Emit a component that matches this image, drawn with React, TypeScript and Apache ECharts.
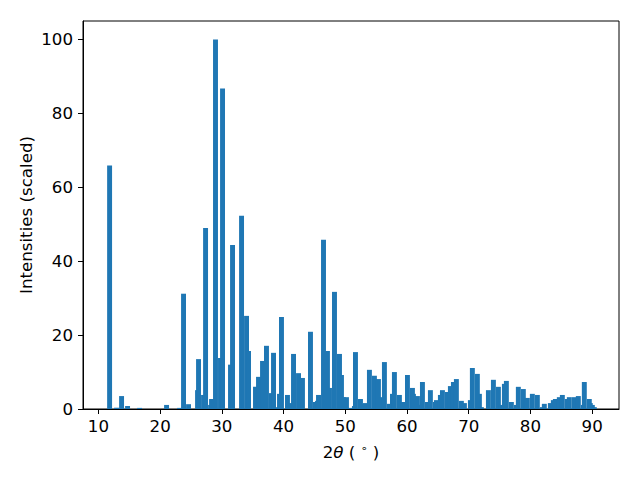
import React, { useEffect, useRef } from "react";
import * as echarts from "echarts";

const twoTheta: number[] = [
  11.81, 12.94, 13.75, 14.72, 16.67, 21.04, 23.15, 23.79, 24.6, 26.06, 26.22, 27.03, 27.36, 28.17, 28.33, 28.97,
  29.78, 30.11, 31.4, 31.73, 33.19, 34.0, 34.32, 35.45, 35.94, 36.59, 37.23, 38.04, 38.37, 39.18, 39.34, 39.66,
  40.63, 41.28, 41.61, 42.42, 42.74, 43.06, 44.36, 45.17, 45.5, 45.66, 46.47, 47.11, 47.44, 48.25, 49.06, 49.38,
  49.7, 50.19, 50.68, 51.48, 51.65, 52.46, 52.62, 52.78, 53.27, 53.91, 54.72, 55.37, 55.86, 56.34, 57.15, 57.64,
  57.96, 58.77, 59.42, 60.07, 60.88, 61.04, 61.69, 62.34, 62.5, 63.31, 63.79, 64.6, 64.76, 65.41, 65.74, 66.55,
  67.03, 67.52, 68.0, 68.81, 69.3, 70.27, 70.59, 71.4, 71.73, 72.05, 73.19, 74.0, 74.81, 75.3, 75.62, 75.78,
  76.1, 76.91, 77.72, 78.04, 78.85, 79.34, 79.5, 80.31, 81.12, 81.93, 82.25, 83.23, 83.71, 84.04, 84.68, 85.17,
  85.98, 86.3, 87.11, 87.76, 88.57, 88.73, 89.54, 89.7, 90.03, 90.35,
];

const intensities: number[] = [
  65.9, 0.35, 3.5, 0.8, 0.3, 1.1, 0.3, 31.2, 1.3, 5.1, 13.5, 3.8, 49.0, 1.1, 2.7, 100,
  13.8, 86.7, 12.0, 44.4, 52.3, 25.2, 15.7, 6.0, 8.7, 13.0, 17.1, 4.3, 15.2, 0.5, 4.1, 24.9,
  3.8, 1.6, 14.9, 9.7, 3.2, 8.4, 20.9, 1.9, 2.2, 3.8, 45.8, 15.7, 5.7, 31.7, 14.9, 9.2,
  3.2, 3.2, 0.3, 0.8, 15.4, 2.7, 0.3, 1.3, 1.6, 10.6, 9.0, 8.1, 3.2, 12.7, 1.4, 4.1,
  10.0, 3.8, 1.9, 9.2, 5.7, 4.1, 3.5, 1.1, 7.3, 1.9, 5.1, 1.9, 2.4, 3.8, 5.1, 4.6,
  6.2, 7.3, 8.1, 2.2, 1.6, 2.4, 11.1, 9.5, 4.1, 0.5, 5.1, 7.9, 6.0, 1.1, 0.5, 6.8,
  7.6, 1.9, 1.1, 6.0, 5.4, 2.7, 3.0, 4.1, 3.8, 0.5, 1.4, 1.6, 2.4, 2.7, 3.2, 3.8,
  2.7, 3.2, 3.2, 3.5, 1.1, 7.3, 2.7, 1.6, 1.1, 0.5,
];

const xTicks: number[] = [10, 20, 30, 40, 50, 60, 70, 80, 90];
const yTicks: number[] = [0, 20, 40, 60, 80, 100];

const BAR_WIDTH = 0.8;
const FONT = "DejaVu Sans";
const FS = 16.67;

export default function App() {
  const ref = useRef<HTMLDivElement>(null);

  useEffect(() => {
    if (!ref.current) return;
    const chart = echarts.init(ref.current, undefined, { renderer: "svg" });
    const data = twoTheta.map((x, i) => [x, intensities[i]]);
    chart.setOption({
      animation: false,
      backgroundColor: "#ffffff",
      grid: {
        left: 83,
        right: 21,
        top: 21,
        bottom: 71,
        show: true,
        borderColor: "#000000",
        borderWidth: 1,
        backgroundColor: "transparent",
      },
      xAxis: {
        type: "value",
        min: 7.5,
        max: 94.35,
        name: "{a|2}{b|θ}{a| ( }{c|∘}{a| )}",
        nameLocation: "middle",
        nameGap: 34,
        nameMoveOverlap: false,
        nameTextStyle: {
          rich: {
            a: { fontFamily: FONT, fontSize: FS, color: "#000" },
            b: { fontFamily: FONT, fontSize: FS, fontStyle: "italic", color: "#000" },
            c: { fontFamily: FONT, fontSize: 11, color: "#000", verticalAlign: "top", padding: [0, 0, 8, 0] },
          },
        },
        axisLine: { show: true, onZero: false, lineStyle: { color: "#000", width: 1 } },
        axisTick: { show: true, length: 5, inside: false, customValues: xTicks, lineStyle: { color: "#000" } },
        axisLabel: { customValues: xTicks, margin: 9, fontFamily: FONT, fontSize: FS, color: "#000" },
        splitLine: { show: false },
      },
      yAxis: {
        type: "value",
        min: 0,
        max: 105,
        name: "Intensities (scaled)",
        nameLocation: "middle",
        nameGap: 48,
        nameMoveOverlap: false,
        nameTextStyle: { fontFamily: FONT, fontSize: FS, color: "#000" },
        axisLine: { show: true, lineStyle: { color: "#000", width: 1 } },
        axisTick: { show: true, length: 5, inside: false, customValues: yTicks, lineStyle: { color: "#000" } },
        axisLabel: { customValues: yTicks, margin: 10, fontFamily: FONT, fontSize: FS, color: "#000" },
        splitLine: { show: false },
      },
      series: [
        {
          type: "custom",
          clip: true,
          data,
          encode: { x: 0, y: 1 },
          renderItem: (params: any, api: any) => {
            const x = api.value(0);
            const h = api.value(1);
            const p0 = api.coord([x - BAR_WIDTH / 2, h]);
            const p1 = api.coord([x + BAR_WIDTH / 2, 0]);
            return {
              type: "rect",
              shape: { x: p0[0], y: p0[1], width: p1[0] - p0[0], height: p1[1] - p0[1] },
              style: { fill: "#1f77b4" },
            };
          },
        },
      ],
    });
    return () => chart.dispose();
  }, []);

  return (
    <div
      ref={ref}
      style={{ position: "fixed", left: 0, top: 0, width: 640, height: 480, background: "#fff" }}
    />
  );
}
